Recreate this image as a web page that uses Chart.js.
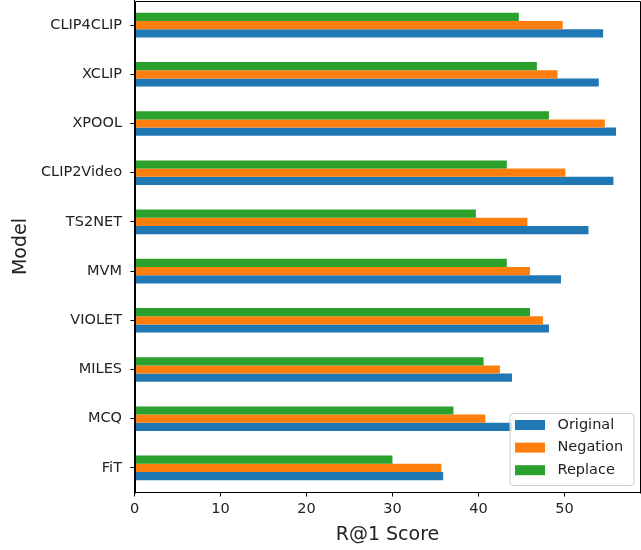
<!DOCTYPE html>
<html>
<head>
<meta charset="utf-8">
<script src="https://cdn.jsdelivr.net/npm/chart.js@4.4.1/dist/chart.umd.min.js"></script>
<style>
  html, body { margin: 0; padding: 0; background: #fff; }
  #wrap { width: 641px; height: 550px; }
</style>
</head>
<body>
<div id="wrap"><canvas id="c" width="641" height="550"></canvas></div>
<script>
// R@1 scores per model, listed top to bottom
const models = ['CLIP4CLIP', 'XCLIP', 'XPOOL', 'CLIP2Video', 'TS2NET', 'MVM', 'VIOLET', 'MILES', 'MCQ', 'FiT'];
const original = [54.5, 54.0, 56.0, 55.7, 52.8, 49.6, 48.2, 43.9, 43.9, 35.9];
const negation = [49.8, 49.2, 54.7, 50.1, 45.7, 46.0, 47.5, 42.5, 40.8, 35.7];
const replace  = [44.7, 46.8, 48.2, 43.3, 39.7, 43.3, 46.0, 40.6, 37.1, 30.0];
const xTicks = [0, 10, 20, 30, 40, 50];

const COLORS = { Original: '#1f77b4', Negation: '#ff7f0e', Replace: '#2ca02c' };
const FONT = 'DejaVu Sans';
const TEXT = '#222';

// Chart.js stacks grouped bars top-down, so the series go in reverse here;
// the legend below lists them in their natural order.
const series = [
  { label: 'Replace', data: replace },
  { label: 'Negation', data: negation },
  { label: 'Original', data: original }
];
const legendOrder = ['Original', 'Negation', 'Replace'];

// Box around the whole plot area (top and right sides)
const framePlugin = {
  id: 'frame',
  afterDatasetsDraw(chart) {
    const { ctx, chartArea: a } = chart;
    ctx.save();
    ctx.strokeStyle = '#000';
    ctx.lineWidth = 1;
    ctx.beginPath();
    ctx.moveTo(Math.round(a.left) + 0.5, Math.round(a.top) + 0.5);
    ctx.lineTo(Math.round(a.right) - 0.5, Math.round(a.top) + 0.5);
    ctx.lineTo(Math.round(a.right) - 0.5, Math.round(a.bottom) + 0.5);
    ctx.moveTo(Math.round(a.left) + 0.5, Math.round(a.top) + 0.5);
    ctx.lineTo(Math.round(a.left) + 0.5, Math.round(a.bottom) + 0.5);
    ctx.stroke();
    ctx.restore();
  }
};

// Legend drawn inside the plot, lower right corner
const insideLegend = {
  id: 'insideLegend',
  afterDraw(chart) {
    const { ctx, chartArea: a } = chart;
    const w = 124, h = 72;
    const x = a.right - 7 - w, y = a.bottom - 7.5 - h;
    ctx.save();
    ctx.beginPath();
    ctx.roundRect(x + 0.5, y + 0.5, w, h, 3);
    ctx.fillStyle = 'rgba(255,255,255,0.8)';
    ctx.fill();
    ctx.strokeStyle = '#cccccc';
    ctx.lineWidth = 1;
    ctx.stroke();
    ctx.font = '14.5px "' + FONT + '"';
    ctx.textBaseline = 'middle';
    legendOrder.forEach((name, i) => {
      const cy = y + 12 + i * 22.6;
      const ds = chart.data.datasets.find(d => d.label === name);
      ctx.fillStyle = ds.backgroundColor;
      ctx.fillRect(x + 5.5, cy - 5, 30, 10);
      ctx.fillStyle = TEXT;
      ctx.fillText(name, x + 48, cy);
    });
    ctx.restore();
  }
};

new Chart(document.getElementById('c'), {
  type: 'bar',
  data: {
    labels: models,
    datasets: series.map(s => ({
      label: s.label,
      data: s.data,
      backgroundColor: COLORS[s.label],
      borderWidth: 0,
      categoryPercentage: 0.5,
      barPercentage: 1.0
    }))
  },
  options: {
    indexAxis: 'y',
    responsive: false,
    animation: false,
    devicePixelRatio: 1,
    layout: { padding: { top: 0.5, right: 0.5, bottom: 0, left: 0 } },
    plugins: {
      legend: { display: false },
      tooltip: { enabled: false }
    },
    scales: {
      x: {
        type: 'linear',
        min: 0,
        max: 58.85,
        afterBuildTicks(scale) { scale.ticks = xTicks.map(v => ({ value: v })); },
        afterFit(scale) {
          scale.height = 57.5;
          scale.paddingLeft = 0;
          scale.paddingRight = 0;
        },
        grid: { drawOnChartArea: false, drawTicks: true, tickLength: 4, tickColor: '#000' },
        border: { display: true, color: '#000', width: 1 },
        ticks: { color: TEXT, padding: 4, font: { family: FONT, size: 14.5 } },
        title: {
          display: true,
          text: 'R@1 Score',
          color: TEXT,
          font: { family: FONT, size: 19 },
          padding: { top: 0, bottom: 4 }
        }
      },
      y: {
        type: 'category',
        offset: true,
        afterFit(scale) {
          scale.width = 134.5;
          scale.paddingTop = 0;
          scale.paddingBottom = 0;
        },
        grid: { drawOnChartArea: false, drawTicks: true, tickLength: 4, tickColor: '#000', offset: false },
        border: { display: true, color: '#000', width: 1 },
        ticks: { color: TEXT, padding: 8.5, font: { family: FONT, size: 14.5 } },
        title: {
          display: true,
          text: 'Model',
          color: TEXT,
          font: { family: FONT, size: 19 },
          padding: { top: 9.6, bottom: 0 }
        }
      }
    }
  },
  plugins: [framePlugin, insideLegend]
});
</script>
</body>
</html>
